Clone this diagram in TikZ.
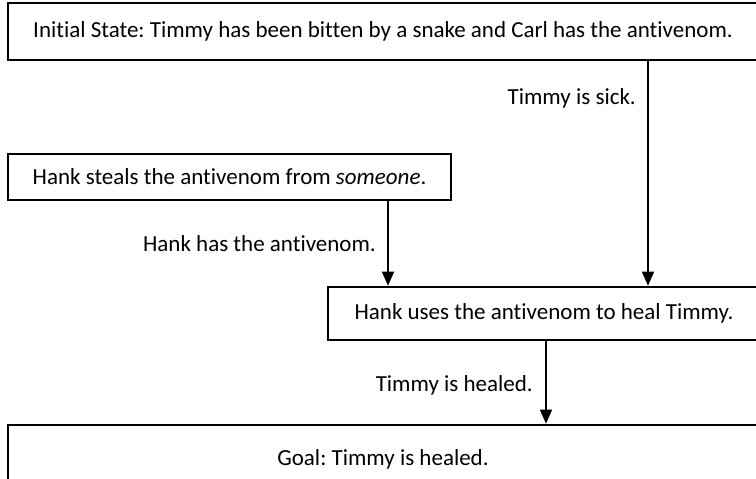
\documentclass[tikz,border=0pt]{standalone}
\usepackage{fontspec}
\setmainfont{Carlito}[Ligatures={NoCommon}]
\usetikzlibrary{arrows.meta}
\begin{document}
\frenchspacing
\begin{tikzpicture}[x=1pt,y=-1pt,
  box/.style={draw=black, line width=2.6pt, rectangle, inner sep=0pt, align=center, fill=white},
  conn/.style={draw=black, line width=1.4pt, -{Triangle[width=12pt,length=14pt]}},
  lbl/.style={inner sep=0pt, anchor=east},
  font=\fontsize{23}{27}\selectfont]
\useasboundingbox (0,0) rectangle (756,479);
\clip (0,0) rectangle (756,479);
\node[box, minimum width=750pt, minimum height=57pt] (init) at (383,31.5) {Initial State: Timmy has been bitten by a snake and Carl has the antivenom.};
\node[box, minimum width=443pt, minimum height=46pt] (steal) at (229.5,177) {Hank steals the antivenom from \textit{someone}.};
\node[box, minimum width=432pt, minimum height=53pt] (uses) at (544,313.5) {Hank uses the antivenom to heal Timmy.};
\node[box, minimum width=750pt, minimum height=68pt] (goal) at (383,459) {Goal: Timmy is healed.};
\coordinate (c1) at (648,0);
\coordinate (c2) at (388,0);
\coordinate (c3) at (546,0);
\draw[conn] (init.south -| c1) -- (uses.north -| c1);
\draw[conn] (steal.south -| c2) -- (uses.north -| c2);
\draw[conn] (uses.south -| c3) -- (goal.north -| c3);
\node[lbl] (l1) at (636,98) {Timmy is sick.};
\node[lbl] (l2) at (376,244) {Hank has the antivenom.};
\node[lbl] (l3) at (533,385) {Timmy is healed.};
\end{tikzpicture}
\end{document}
